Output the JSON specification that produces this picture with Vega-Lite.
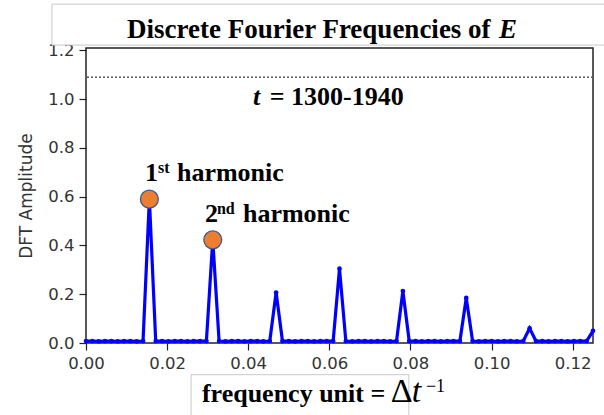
{
  "$schema": "https://vega.github.io/schema/vega-lite/v6.json",
  "width": 507,
  "height": 295,
  "autosize": {"type": "none"},
  "padding": {"left": 86, "top": 48, "right": 11, "bottom": 72},
  "background": "white",
  "config": {
    "view": {"stroke": "#222", "strokeWidth": 1.5},
    "axis": {"grid": false, "domain": false, "labelFlush": false, "labelFont": "DejaVu Sans", "labelFontSize": 16.5, "labelColor": "#333", "tickColor": "#222", "tickWidth": 1.2, "tickSize": 7, "labelPadding": 5, "titleFont": "DejaVu Sans", "titleFontSize": 17, "titleFontWeight": "normal", "titleColor": "#333"}
  },
  "datasets": {
    "dft": [
      {"f": 0, "amp": 0.008}, {"f": 0.0015625, "amp": 0.008}, {"f": 0.003125, "amp": 0.007}, {"f": 0.0046875, "amp": 0.008},
      {"f": 0.00625, "amp": 0.008}, {"f": 0.0078125, "amp": 0.007}, {"f": 0.009375, "amp": 0.008}, {"f": 0.0109375, "amp": 0.008},
      {"f": 0.0125, "amp": 0.007}, {"f": 0.0140625, "amp": 0.008}, {"f": 0.015625, "amp": 0.59}, {"f": 0.0171875, "amp": 0.008},
      {"f": 0.01875, "amp": 0.008}, {"f": 0.0203125, "amp": 0.007}, {"f": 0.021875, "amp": 0.008}, {"f": 0.0234375, "amp": 0.008},
      {"f": 0.025, "amp": 0.007}, {"f": 0.0265625, "amp": 0.008}, {"f": 0.028125, "amp": 0.008}, {"f": 0.0296875, "amp": 0.008},
      {"f": 0.03125, "amp": 0.423}, {"f": 0.0328125, "amp": 0.008}, {"f": 0.034375, "amp": 0.007}, {"f": 0.0359375, "amp": 0.008},
      {"f": 0.0375, "amp": 0.008}, {"f": 0.0390625, "amp": 0.007}, {"f": 0.040625, "amp": 0.008}, {"f": 0.0421875, "amp": 0.008},
      {"f": 0.04375, "amp": 0.007}, {"f": 0.0453125, "amp": 0.008}, {"f": 0.046875, "amp": 0.207}, {"f": 0.0484375, "amp": 0.008},
      {"f": 0.05, "amp": 0.008}, {"f": 0.0515625, "amp": 0.007}, {"f": 0.053125, "amp": 0.008}, {"f": 0.0546875, "amp": 0.008},
      {"f": 0.05625, "amp": 0.007}, {"f": 0.0578125, "amp": 0.008}, {"f": 0.059375, "amp": 0.008}, {"f": 0.0609375, "amp": 0.008},
      {"f": 0.0625, "amp": 0.305}, {"f": 0.0640625, "amp": 0.008}, {"f": 0.065625, "amp": 0.007}, {"f": 0.0671875, "amp": 0.008},
      {"f": 0.06875, "amp": 0.008}, {"f": 0.0703125, "amp": 0.007}, {"f": 0.071875, "amp": 0.008}, {"f": 0.0734375, "amp": 0.008},
      {"f": 0.075, "amp": 0.007}, {"f": 0.0765625, "amp": 0.008}, {"f": 0.078125, "amp": 0.213}, {"f": 0.0796875, "amp": 0.008},
      {"f": 0.08125, "amp": 0.008}, {"f": 0.0828125, "amp": 0.007}, {"f": 0.084375, "amp": 0.008}, {"f": 0.0859375, "amp": 0.008},
      {"f": 0.0875, "amp": 0.007}, {"f": 0.0890625, "amp": 0.008}, {"f": 0.090625, "amp": 0.008}, {"f": 0.0921875, "amp": 0.008},
      {"f": 0.09375, "amp": 0.185}, {"f": 0.0953125, "amp": 0.008}, {"f": 0.096875, "amp": 0.007}, {"f": 0.0984375, "amp": 0.008},
      {"f": 0.1, "amp": 0.008}, {"f": 0.1015625, "amp": 0.007}, {"f": 0.103125, "amp": 0.008}, {"f": 0.1046875, "amp": 0.008},
      {"f": 0.10625, "amp": 0.007}, {"f": 0.1078125, "amp": 0.008}, {"f": 0.109375, "amp": 0.06}, {"f": 0.1109375, "amp": 0.008},
      {"f": 0.1125, "amp": 0.008}, {"f": 0.1140625, "amp": 0.007}, {"f": 0.115625, "amp": 0.008}, {"f": 0.1171875, "amp": 0.008},
      {"f": 0.11875, "amp": 0.007}, {"f": 0.1203125, "amp": 0.008}, {"f": 0.121875, "amp": 0.008}, {"f": 0.1234375, "amp": 0.008},
      {"f": 0.125, "amp": 0.05}
    ],
    "harmonics": [{"f": 0.015625, "amp": 0.59}, {"f": 0.03125, "amp": 0.423}],
    "threshold": [{"level": 1.09}],
    "boxes": [
      {"x": -0.0084, "x2": 0.13, "y": 1.39, "y2": 1.222},
      {"x": 0.0259, "x2": 0.0796, "y": -0.13, "y2": -0.35}
    ],
    "boldText": [
      {"x": 0.0101, "y": 1.251, "label": "Discrete Fourier Frequencies of"},
      {"x": 0.0453, "y": 0.975, "label": "= 1300-1940"},
      {"x": 0.01454, "y": 0.663, "label": "1"},
      {"x": 0.02242, "y": 0.663, "label": "harmonic"},
      {"x": 0.02932, "y": 0.496, "label": "2"},
      {"x": 0.03869, "y": 0.496, "label": "harmonic"},
      {"x": 0.02858, "y": -0.244, "label": "frequency unit ="}
    ],
    "boldItalicText": [
      {"x": 0.1018, "y": 1.251, "label": "E"},
      {"x": 0.0412, "y": 0.975, "label": "t"}
    ],
    "boldSup": [
      {"x": 0.01774, "y": 0.696, "label": "st"},
      {"x": 0.03228, "y": 0.529, "label": "nd"}
    ],
    "delta": [{"x": 0.07516, "y": -0.244, "label": "Δ"}],
    "tItalic": [{"x": 0.0803, "y": -0.244, "label": "t"}],
    "minusOne": [{"x": 0.0838, "y": -0.199, "label": "−1"}]
  },
  "layer": [
    {
      "data": {"name": "threshold"},
      "mark": {"type": "rule", "color": "#555", "strokeWidth": 1.5, "strokeDash": [2, 2]},
      "encoding": {"y": {"field": "level", "type": "quantitative"}}
    },
    {
      "data": {"name": "dft"},
      "mark": {"type": "line", "color": "#0000ff", "strokeWidth": 3.2, "point": {"filled": true, "size": 22, "color": "#0000ff"}},
      "encoding": {
        "x": {"field": "f", "type": "quantitative", "scale": {"domain": [0, 0.125], "nice": false}, "axis": {"values": [0, 0.02, 0.04, 0.06, 0.08, 0.1, 0.12], "format": ".2f", "title": null}},
        "y": {"field": "amp", "type": "quantitative", "scale": {"domain": [0, 1.21], "nice": false}, "axis": {"values": [0, 0.2, 0.4, 0.6, 0.8, 1.0, 1.2], "format": ".1f", "title": "DFT Amplitude", "titlePadding": 12}}
      }
    },
    {
      "data": {"name": "harmonics"},
      "mark": {"type": "point", "filled": true, "size": 320, "fill": "#ED7D31", "stroke": "#3b5a8a", "strokeWidth": 1.3, "opacity": 1},
      "encoding": {"x": {"field": "f", "type": "quantitative"}, "y": {"field": "amp", "type": "quantitative"}}
    },
    {
      "data": {"name": "boxes"},
      "mark": {"type": "rect", "fill": "white", "stroke": "#c8c8c8", "strokeWidth": 1},
      "encoding": {"x": {"field": "x", "type": "quantitative"}, "x2": {"field": "x2"}, "y": {"field": "y", "type": "quantitative"}, "y2": {"field": "y2"}}
    },
    {
      "data": {"name": "boldText"},
      "mark": {"type": "text", "font": "Liberation Serif", "fontWeight": "bold", "fontSize": 26, "align": "left", "baseline": "alphabetic", "color": "black"},
      "encoding": {"x": {"field": "x", "type": "quantitative"}, "y": {"field": "y", "type": "quantitative"}, "text": {"field": "label"}, "size": {"condition": {"test": "datum.y > 1.2", "value": 27}, "value": 26}}
    },
    {
      "data": {"name": "boldItalicText"},
      "mark": {"type": "text", "font": "Liberation Serif", "fontWeight": "bold", "fontStyle": "italic", "fontSize": 26, "align": "left", "baseline": "alphabetic", "color": "black"},
      "encoding": {"x": {"field": "x", "type": "quantitative"}, "y": {"field": "y", "type": "quantitative"}, "text": {"field": "label"}, "size": {"condition": {"test": "datum.y > 1.2", "value": 27}, "value": 26}}
    },
    {
      "data": {"name": "boldSup"},
      "mark": {"type": "text", "font": "Liberation Serif", "fontWeight": "bold", "fontSize": 16, "align": "left", "baseline": "alphabetic", "color": "black"},
      "encoding": {"x": {"field": "x", "type": "quantitative"}, "y": {"field": "y", "type": "quantitative"}, "text": {"field": "label"}}
    },
    {
      "data": {"name": "delta"},
      "mark": {"type": "text", "font": "Liberation Serif", "fontSize": 34, "align": "left", "baseline": "alphabetic", "color": "black"},
      "encoding": {"x": {"field": "x", "type": "quantitative"}, "y": {"field": "y", "type": "quantitative"}, "text": {"field": "label"}}
    },
    {
      "data": {"name": "tItalic"},
      "mark": {"type": "text", "font": "Liberation Serif", "fontStyle": "italic", "fontSize": 34, "align": "left", "baseline": "alphabetic", "color": "black"},
      "encoding": {"x": {"field": "x", "type": "quantitative"}, "y": {"field": "y", "type": "quantitative"}, "text": {"field": "label"}}
    },
    {
      "data": {"name": "minusOne"},
      "mark": {"type": "text", "font": "Liberation Serif", "fontSize": 18, "align": "left", "baseline": "alphabetic", "color": "black"},
      "encoding": {"x": {"field": "x", "type": "quantitative"}, "y": {"field": "y", "type": "quantitative"}, "text": {"field": "label"}}
    }
  ]
}
